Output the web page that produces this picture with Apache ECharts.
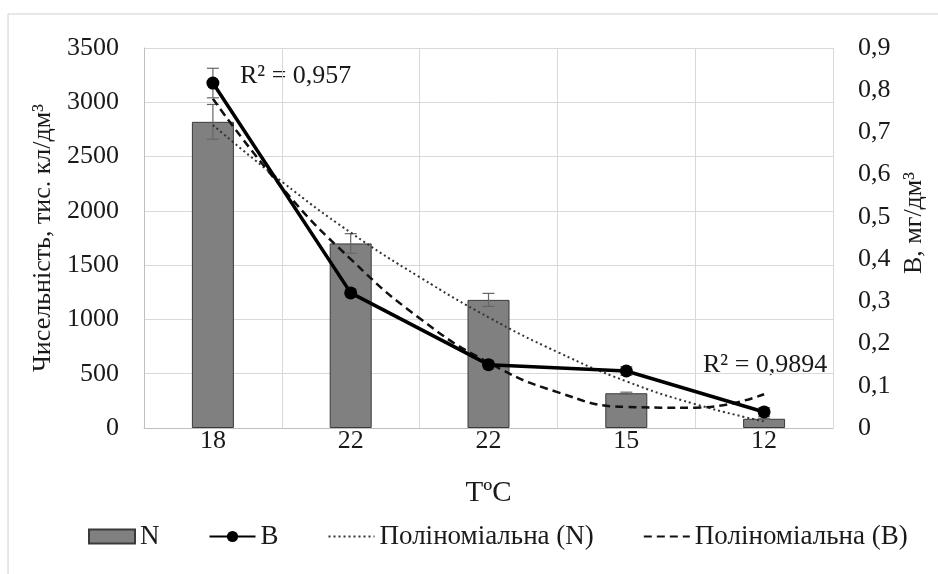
<!DOCTYPE html>
<html>
<head>
<meta charset="utf-8">
<script src="https://cdn.jsdelivr.net/npm/echarts@6/dist/echarts.min.js"></script>
<style>
  html, body { margin: 0; padding: 0; background: #fff; }
  #chart { width: 938px; height: 574px; }
</style>
</head>
<body>
<div id="chart"></div>
<script>
// дані
var temps = ['18', '22', '22', '15', '12'];
var valuesN = [2820, 1700, 1180, 320, 85];
var errorsN = [160, 90, 60, 10, 5];
var valuesB = [0.817, 0.32, 0.15, 0.135, 0.038];
var errorsB = [0.035, 0.01, 0.01, 0.01, 0.01];
// лінії тренду (поліноміальні), зчитані по пів-категорії
var trendX = [1, 1.5, 2, 2.5, 3, 3.5, 4, 4.5, 5];
var trendN = [2790, 2270, 1800, 1390, 1020, 700, 430, 220, 60];
var trendB = [0.78, 0.57, 0.40, 0.26, 0.155, 0.085, 0.05, 0.048, 0.08];
var leftTicks = [0, 3500, 500];
var rightTicks = [0, 0.9, 0.1];

var font = 'Liberation Serif';
var txt = '#1a1a1a';
var chart = echarts.init(document.getElementById('chart'));

// вуса похибок
function errBar(params, api) {
  var lo = api.coord([api.value(0), api.value(1)]);
  var hi = api.coord([api.value(0), api.value(2)]);
  var x = lo[0];
  var cap = 6;
  var st = { stroke: '#666', lineWidth: 1.2 };
  return {
    type: 'group',
    children: [
      { type: 'line', shape: { x1: x, y1: lo[1], x2: x, y2: hi[1] }, style: st },
      { type: 'line', shape: { x1: x - cap, y1: lo[1], x2: x + cap, y2: lo[1] }, style: st },
      { type: 'line', shape: { x1: x - cap, y1: hi[1], x2: x + cap, y2: hi[1] }, style: st }
    ]
  };
}

var option = {
  backgroundColor: '#fff',
  animation: false,
  textStyle: { fontFamily: font, color: txt },
  grid: { left: 144, right: 105, top: 48, bottom: 146 },
  graphic: [
    { type: 'rect', shape: { x: 8, y: 14, width: 960, height: 600 }, style: { fill: 'none', stroke: '#d0d0d0', lineWidth: 1 } },
    { type: 'text', left: 240, top: 63, style: { text: 'R² = 0,957', font: '26px ' + font, fill: txt } },
    { type: 'text', left: 703, top: 352, style: { text: 'R² = 0,9894', font: '26px ' + font, fill: txt } }
  ],
  legend: {
    left: 83,
    top: 518,
    itemWidth: 46,
    itemHeight: 14,
    itemGap: 49,
    textStyle: { fontFamily: font, fontSize: 27, color: txt },
    data: [
      { name: 'N', icon: 'rect' },
      { name: 'B' },
      { name: 'Поліноміальна (N)', itemStyle: { opacity: 0 } },
      { name: 'Поліноміальна (B)', itemStyle: { opacity: 0 } }
    ]
  },
  xAxis: [
    {
      type: 'category',
      data: temps,
      name: 'TºC',
      nameLocation: 'middle',
      nameGap: 51,
      nameTextStyle: { fontFamily: font, fontSize: 29, color: txt },
      axisLine: { lineStyle: { color: '#bfbfbf' } },
      axisTick: { show: false },
      axisLabel: { fontFamily: font, fontSize: 26, color: txt, margin: 0 },
      splitLine: { show: true, lineStyle: { color: '#d9d9d9' } }
    },
    {
      type: 'value',
      min: 0.5,
      max: 5.5,
      show: false
    }
  ],
  yAxis: [
    {
      type: 'value',
      min: leftTicks[0],
      max: leftTicks[1],
      interval: leftTicks[2],
      name: 'Чисельність, тис. кл/дм³',
      nameLocation: 'middle',
      nameGap: 86,
      nameTextStyle: { fontFamily: font, fontSize: 26, color: txt },
      axisLine: { show: true, lineStyle: { color: '#bfbfbf' } },
      axisTick: { show: false },
      axisLabel: { fontFamily: font, fontSize: 26, color: txt, margin: 25, formatter: function (v) { return String(v); } },
      splitLine: { lineStyle: { color: '#d9d9d9' } }
    },
    {
      type: 'value',
      min: rightTicks[0],
      max: rightTicks[1],
      interval: rightTicks[2],
      name: 'В, мг/дм³',
      nameLocation: 'middle',
      nameGap: 58,
      nameTextStyle: { fontFamily: font, fontSize: 26, color: txt, padding: [0, 0, 0, 30] },
      axisLine: { show: false },
      axisTick: { show: false },
      axisLabel: {
        fontFamily: font, fontSize: 26, color: txt, margin: 25,
        formatter: function (v) { return v === 0 ? '0' : v.toFixed(1).replace('.', ','); }
      },
      splitLine: { show: false }
    }
  ],
  series: [
    {
      name: 'N',
      type: 'bar',
      data: valuesN,
      barWidth: 42,
      itemStyle: { color: '#808080', borderColor: '#3a3a3a', borderWidth: 1 },
      z: 2
    },
    {
      type: 'custom',
      renderItem: errBar,
      data: valuesN.map(function (v, i) { return [i, v - errorsN[i], v + errorsN[i]]; }),
      z: 3
    },
    {
      name: 'Поліноміальна (N)',
      type: 'line',
      xAxisIndex: 1,
      data: trendX.map(function (x, i) { return [x, trendN[i]]; }),
      smooth: true,
      showSymbol: false,
      symbol: 'none',
      lineStyle: { color: '#333', width: 2, type: [2, 3] },
      itemStyle: { color: '#333' },
      z: 4
    },
    {
      name: 'Поліноміальна (B)',
      type: 'line',
      xAxisIndex: 1,
      yAxisIndex: 1,
      data: trendX.map(function (x, i) { return [x, trendB[i]]; }),
      smooth: true,
      showSymbol: false,
      symbol: 'none',
      lineStyle: { color: '#111', width: 2.5, type: [8, 5] },
      itemStyle: { color: '#111' },
      z: 4
    },
    {
      type: 'custom',
      yAxisIndex: 1,
      renderItem: errBar,
      data: valuesB.map(function (v, i) { return [i, v - errorsB[i], v + errorsB[i]]; }),
      z: 5
    },
    {
      name: 'B',
      type: 'line',
      yAxisIndex: 1,
      data: valuesB,
      symbol: 'circle',
      symbolSize: 13,
      lineStyle: { color: '#000', width: 3.5 },
      itemStyle: { color: '#000' },
      z: 6
    }
  ]
};
chart.setOption(option);
</script>
</body>
</html>
